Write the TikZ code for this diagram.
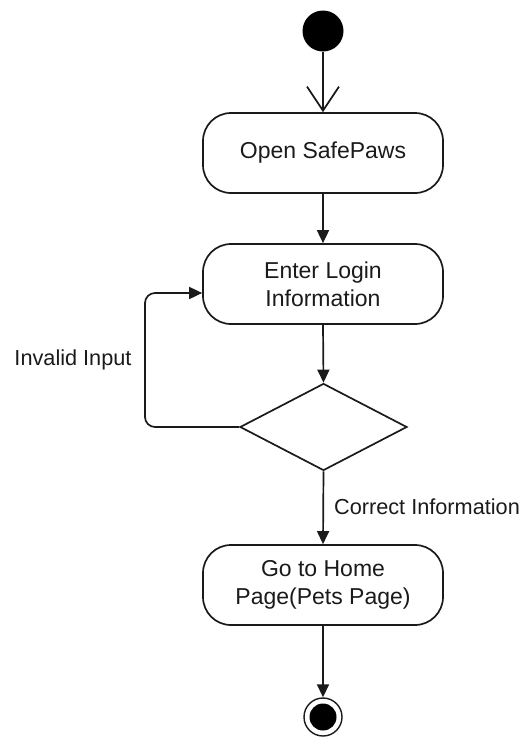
\documentclass[tikz,border=0pt]{standalone}
\usepackage{fontspec}
\setmainfont{Liberation Sans}
\usetikzlibrary{arrows.meta,shapes.geometric,calc}
\definecolor{ink}{HTML}{1A1A1A}
\tikzset{
  act/.style={draw=ink, line width=1.7pt, rounded corners=28pt, minimum width=240pt, minimum height=80pt, align=center, inner sep=0pt, font=\fontsize{23}{28}\selectfont, text=ink},
  dec/.style={draw=ink, line width=1.7pt, diamond, aspect=1.92, minimum width=167pt, minimum height=87pt, inner sep=0pt},
  flow/.style={draw=ink, line width=1.7pt, -{Triangle[length=13pt,width=12pt]}},
  openflow/.style={draw=ink, line width=1.7pt, -{Straight Barb[length=24pt,width=32pt,line width=1.7pt]}},
  lbl/.style={font=\fontsize{21.7}{26}\selectfont, text=ink, inner sep=0pt}
}
\begin{document}
\begin{tikzpicture}[x=1pt,y=-1pt]
\useasboundingbox (0,0) rectangle (525,742);
\node[circle, fill=black, minimum size=41pt, inner sep=0pt] (start) at (323,31) {};
\node[act] (b1) at (323,153) {Open SafePaws};
\node[act] (b2) at (323,284) {Enter Login\\Information};
\node[dec] (d) at (323.5,427) {};
\node[act] (b3) at (323,585) {Go to Home\\Page(Pets Page)};
\node[circle, draw=ink, line width=1.4pt, fill=white, minimum size=38pt, inner sep=0pt] (end) at (323,717) {};
\node[circle, fill=black, minimum size=27pt, inner sep=0pt] (endin) at (end.center) {};
\coordinate (lp) at (145,293);
\draw[openflow] (start.south) -- (b1.north);
\draw[flow] (b1.south) -- (b2.north);
\draw[flow] (b2.south) -- (d.north);
\draw[flow] (d.south) -- (b3.north);
\draw[flow] (b3.south) -- (end.north);
\draw[flow, rounded corners=10pt] (d.west) -| (lp) -- (b2.west |- lp);
\node[lbl] (l1) at (73,360) {Invalid Input};
\node[lbl] (l2) at (427,507) {Correct Information};
\end{tikzpicture}
\end{document}
